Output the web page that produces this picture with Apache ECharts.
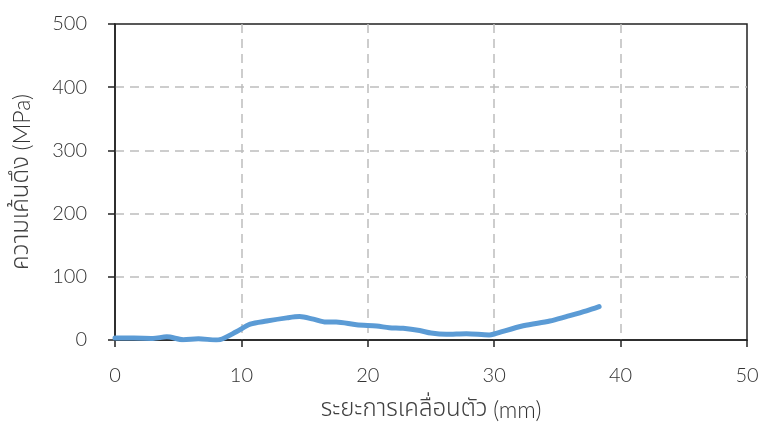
<!DOCTYPE html>
<html><head><meta charset="utf-8">
<script src="https://cdn.jsdelivr.net/npm/echarts@6/dist/echarts.min.js"></script>
<style>html,body{margin:0;padding:0;background:#fff}#c{width:763px;height:422px}</style>
</head><body><div id="c"></div>
<script>
const displacement = [0, 1.5, 3, 4.1, 5.4, 6.6, 8.0, 8.3, 9.6, 10.7, 12.0, 13.6, 14.6, 15.7, 16.7, 17.5, 19.1, 20.7, 21.7, 22.8, 24.1, 25.0, 26.2, 27.8, 29.6, 30.0, 32.3, 34.4, 35.7, 37.3, 38.3];
const stress = [3, 3, 2.5, 5, 0.5, 2, 0, 0.5, 13, 25, 30, 35, 37, 33, 28.5, 28.5, 24, 22, 19.5, 18.5, 15, 11, 9, 10, 8, 9.5, 22.5, 30, 37, 46, 52.7];
const xTicks = [0, 10, 20, 30, 40, 50];
const yTicks = [0, 100, 200, 300, 400, 500];
const xNameThai = 'ระยะการเคลื่อนตัว';
const xNameUnit = '(mm)';
const yNameThai = 'ความเค้นดึง';
const yNameUnit = '(MPa)';

const font = 'Lato, "Noto Sans", "DejaVu Sans", sans-serif';
const thaiFont = '"Noto Sans Thai", "Noto Sans Thai Looped", Loma, Garuda, Sarabun, Kinnari, sans-serif';
const split = {show: true, showMinLine: false, showMaxLine: false, lineStyle: {color: '#bdbdbd', type: [9, 6], width: 1.5}};
const nameRich = {
  t: {fontFamily: thaiFont, fontSize: 24, fontWeight: 300, color: '#404040'},
  l: {fontFamily: font, fontSize: 23, fontWeight: 300, color: '#333'}
};
const chart = echarts.init(document.getElementById('c'), null, {renderer: 'canvas'});
chart.setOption({
  animation: false,
  grid: {left: 115, right: 16, top: 24, bottom: 82, containLabel: false, outerBoundsMode: 'none', show: true, borderColor: '#222', borderWidth: 1.5, backgroundColor: 'transparent'},
  xAxis: {
    type: 'value', min: xTicks[0], max: xTicks[xTicks.length - 1], interval: 10,
    name: '{t|' + xNameThai + '} {l|' + xNameUnit + '}', nameLocation: 'middle', nameGap: 59,
    nameTextStyle: {fontFamily: font, fontSize: 22, color: '#404040', rich: nameRich},
    axisLine: {show: true, onZero: false, lineStyle: {color: '#222', width: 1.5}},
    axisTick: {show: true, inside: false, length: 7, lineStyle: {color: '#222', width: 1.5}},
    axisLabel: {fontFamily: font, fontSize: 20, fontWeight: 300, color: '#333', margin: 26},
    splitLine: split
  },
  yAxis: {
    type: 'value', min: yTicks[0], max: yTicks[yTicks.length - 1], interval: 100,
    name: '{t|' + yNameThai + '} {l|' + yNameUnit + '}', nameLocation: 'middle', nameGap: 80, nameRotate: 90,
    nameTextStyle: {fontFamily: font, fontSize: 22, color: '#404040', rich: nameRich},
    axisLine: {show: true, lineStyle: {color: '#222', width: 1.5}},
    axisTick: {show: true, inside: false, length: 7, lineStyle: {color: '#222', width: 1.5}},
    axisLabel: {fontFamily: font, fontSize: 20, fontWeight: 300, color: '#333', margin: 28},
    splitLine: split
  },
  series: [{
    type: 'line',
    data: displacement.map((x, i) => [x, stress[i]]),
    showSymbol: false,
    smooth: 0.3,
    lineStyle: {color: '#5B9BD5', width: 5, cap: 'round', join: 'round'},
    z: 5
  }]
});
</script>
</body></html>
